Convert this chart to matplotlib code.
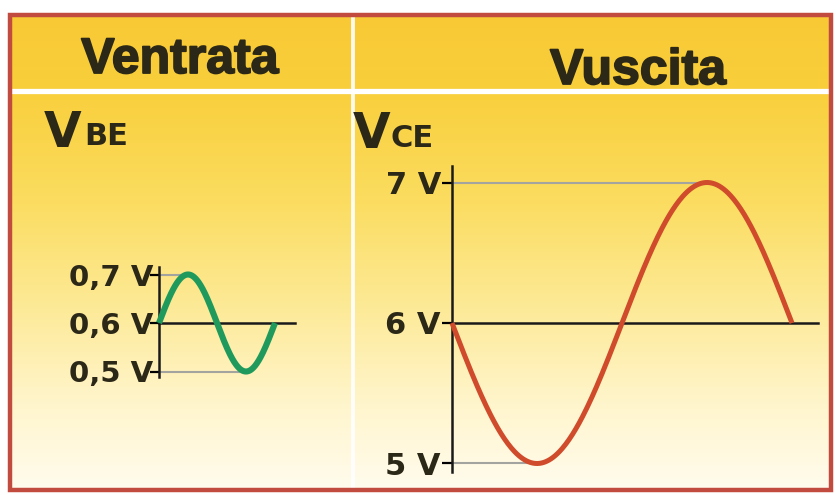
import numpy as np
import matplotlib
matplotlib.use("Agg")
import matplotlib.pyplot as plt
import matplotlib.patheffects as pe
from matplotlib.patches import Rectangle
from matplotlib.colors import LinearSegmentedColormap

# Values
vbe_levels = [0.5, 0.6, 0.7]          # input: base-emitter voltage
vbe_labels = ["0,5 V", "0,6 V", "0,7 V"]
vce_levels = [5, 6, 7]                # output: collector-emitter voltage
vce_labels = ["5 V", "6 V", "7 V"]

W, H = 836, 495
TXT = "#2b2818"
GREEN = "#1f9a5c"
RED = "#cf4b2b"
GRAY = "#a3a3a0"

fig = plt.figure(figsize=(W / 100, H / 100), dpi=100)
fig.patch.set_facecolor("white")

# background layer in pixel coordinates
bg = fig.add_axes([0, 0, 1, 1])
bg.set_xlim(0, W)
bg.set_ylim(H, 0)
bg.axis("off")

cmap = LinearSegmentedColormap.from_list("bg", [
    (0.0, "#f8c935"), (0.16, "#f9cf3c"), (0.38, "#fbdc5e"),
    (0.62, "#fdea98"), (0.82, "#fff5cc"), (1.0, "#fffcee")])
grad = np.linspace(0, 1, 256).reshape(-1, 1)
bg.imshow(grad, cmap=cmap, aspect="auto", extent=(10, 831, 490, 15), zorder=0)
bg.add_patch(Rectangle((10, 15), 821, 475, fill=False, ec="#c24b3f", lw=3.2, zorder=3))
bg.plot([12, 829], [90.5, 90.5], color="white", lw=3.8, zorder=2)
bg.plot([352.5, 352.5], [17, 488], color="white", lw=2.8, alpha=0.9, zorder=2)

heavy = [pe.withStroke(linewidth=1.3, foreground=TXT)]
head = dict(family=["Liberation Sans", "DejaVu Sans"], weight="bold",
            fontsize=36, color=TXT, ha="center", va="baseline", path_effects=heavy)
bg.text(180, 73, "Ventrata", **head)
bg.text(638, 84, "Vuscita", **head)

big = dict(family="DejaVu Sans", weight="bold", color=TXT, va="baseline")
bg.text(44, 147, "V", fontsize=35, **big)
bg.text(84, 145, "BE", fontsize=22, **big)
bg.text(353, 148, "V", fontsize=35, **big)
bg.text(391, 147, "CE", fontsize=22, **big)


def px_axes(x0, x1, ytop, ybot):
    return fig.add_axes([x0 / W, 1 - ybot / H, (x1 - x0) / W, (ybot - ytop) / H])


def wave_axes(ax, levels, labels, t, v, color, lw, x_end, v_lo, v_hi, fs, tick_len, pad):
    ax.patch.set_alpha(0)
    for s in ["top", "right", "bottom"]:
        ax.spines[s].set_visible(False)
    ax.spines["left"].set_position(("data", 0))
    ax.spines["left"].set_bounds(v_lo, v_hi)
    ax.spines["left"].set_linewidth(1.8)
    ax.spines["left"].set_color("#1a1a1a")
    ax.set_xticks([])
    ax.set_yticks(levels)
    ax.set_yticklabels(labels, family="DejaVu Sans", weight="bold", fontsize=fs, color=TXT)
    ax.tick_params(axis="y", length=tick_len, width=1.6, pad=pad)
    ticks = ax.yaxis.get_major_ticks()
    ticks[0].tick1line.set_color(GRAY)
    ticks[1].tick1line.set_color("#1a1a1a")
    ticks[2].tick1line.set_color(GRAY)
    mid = levels[1]
    ax.plot([0, x_end], [mid, mid], color="#1a1a1a", lw=1.8, zorder=2)
    # grey guides to the extremes of the wave
    i_max, i_min = np.argmax(v), np.argmin(v)
    ax.plot([0, t[i_max]], [levels[2], levels[2]], color=GRAY, lw=1.5, zorder=1)
    ax.plot([0, t[i_min]], [levels[0], levels[0]], color=GRAY, lw=1.5, zorder=1)
    ax.plot(t, v, color=color, lw=lw, solid_capstyle="butt", zorder=3)


t = np.linspace(0, 1, 300)
vbe = vbe_levels[1] + (vbe_levels[2] - vbe_levels[1]) * np.sin(2 * np.pi * t)
vce = vce_levels[1] - (vce_levels[2] - vce_levels[1]) * np.sin(2 * np.pi * t)

# left: 1 period = 116 px starting at x=159; 0.1 V = 48.5 px, 0.6 V at y=323
ax1 = px_axes(159 - 11.6, 159 + 139.2, 323 - 0.12 * 485, 323 + 0.12 * 485)
ax1.set_xlim(-0.1, 1.2)
ax1.set_ylim(0.48, 0.72)
wave_axes(ax1, vbe_levels, vbe_labels, t, vbe, GREEN, 4.4, 1.17, 0.489, 0.716, 21, 6.5, -2.5)

# right: 1 period = 340 px starting at x=452; 1 V = 140.5 px, 6 V at y=323
ax2 = px_axes(452 - 34, 452 + 380.8, 323 - 1.15 * 140.5, 323 + 1.15 * 140.5)
ax2.set_xlim(-0.1, 1.12)
ax2.set_ylim(4.85, 7.15)
wave_axes(ax2, vce_levels, vce_labels, t, vce, RED, 3.6, 1.076, 4.94, 7.12, 22, 7.5, 0.5)

fig.savefig("out.png", dpi=100)
